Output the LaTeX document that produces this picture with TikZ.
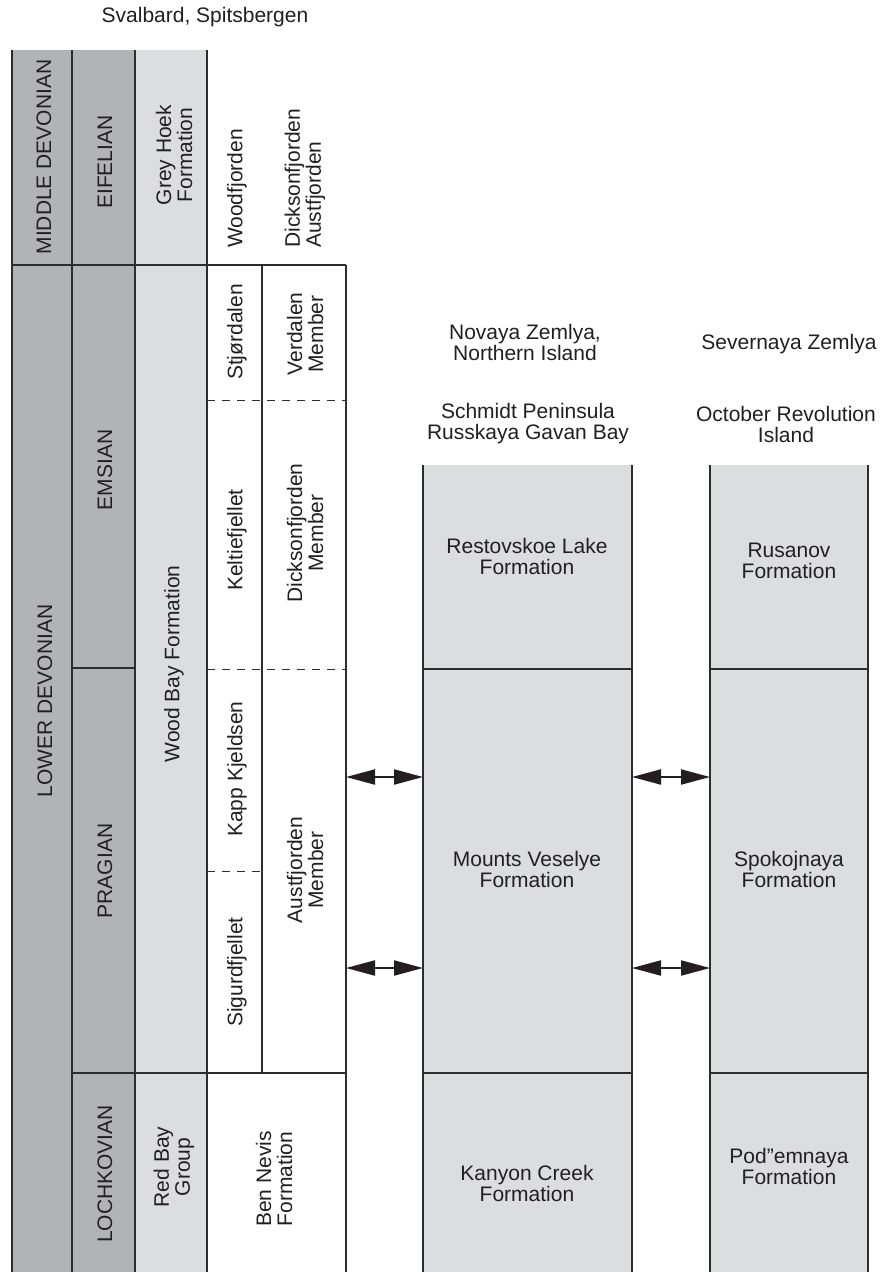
\documentclass[tikz,border=0pt]{standalone}
\usepackage{fontspec}
\setmainfont{Liberation Sans}
\usetikzlibrary{arrows.meta}
\definecolor{stagegrey}{RGB}{178,179,182}
\definecolor{unitgrey}{RGB}{220,221,223}
\definecolor{rulegrey}{RGB}{45,45,45}
\definecolor{inkblack}{RGB}{35,31,32}
\newcommand{\chartfont}{\fontsize{21}{21}\selectfont}
\tikzset{
	every node/.style={font=\chartfont,text=inkblack,align=center},
	rule/.style={draw=rulegrey,line width=1.2pt},
	subrule/.style={draw=rulegrey,line width=1pt,dash pattern=on 8pt off 7pt},
	up/.style={rotate=90},
	link/.style={{Triangle[length=29pt,width=15pt]}-{Triangle[length=29pt,width=15pt]},line width=2pt,draw=inkblack}
}

\begin{document}
\begin{tikzpicture}[x=1pt,y=-1pt]
	\useasboundingbox[fill=white] (0,0) rectangle (880,1272);
	\fill[stagegrey] (12,50) rectangle (135,1280);
	\fill[unitgrey] (135,50) rectangle (207,1280);
	\foreach \l/\r in {423/632,710/868}{
		\fill[unitgrey] (\l,465) rectangle (\r,1280);
		\draw[rule] (\l,465) -- (\l,1280);
		\draw[rule] (\r,465) -- (\r,1280);
		\foreach \y in {669,1073}{
			\draw[rule] (\l,\y) -- (\r,\y);
		}
	}
	\foreach \x in {12,72,135,207}{
		\draw[rule] (\x,50) -- (\x,1280);
	}
	\draw[rule] (12,265) -- (346,265);
	\draw[rule] (346,265) -- (346,1280);
	\draw[rule] (262,265) -- (262,1073);
	\draw[rule] (72,668) -- (135,668);
	\draw[rule] (72,1073) -- (346,1073);
	\foreach \y in {400,669}{
		\draw[subrule] (207,\y) -- (346,\y);
	}
	\draw[subrule] (207,871) -- (262,871);
	\node (svalbard) at (205,17) {Svalbard, Spitsbergen};
	\node (novaya) at (525,342) {Novaya Zemlya,\\Northern Island};
	\node (severnaya) at (789,344) {Severnaya Zemlya};
	\node (schmidt) at (528,424) {Schmidt Peninsula\\Russkaya Gavan Bay};
	\node (october) at (786,424) {October Revolution\\Island};
	\node (restovskoe) at (527,556) {Restovskoe Lake\\Formation};
	\node (veselye) at (527,869) {Mounts Veselye\\Formation};
	\node (kanyon) at (527,1183) {Kanyon Creek\\Formation};
	\node (rusanov) at (789,561) {Rusanov\\Formation};
	\node (spokojnaya) at (789,869) {Spokojnaya\\Formation};
	\node (podemnaya) at (789,1166) {Pod"emnaya\\Formation};
	\node[up] (middev) at (44,157) {MIDDLE DEVONIAN};
	\node[up] (lowdev) at (45,701) {LOWER DEVONIAN};
	\node[up] (eifelian) at (105,162) {EIFELIAN};
	\node[up] (emsian) at (105,470) {EMSIAN};
	\node[up] (pragian) at (105,871) {PRAGIAN};
	\node[up] (lochkovian) at (105,1174) {LOCHKOVIAN};
	\node[up] (greyhoek) at (174,155) {Grey Hoek\\Formation};
	\node[up] (woodbay) at (174,664) {Wood Bay Formation};
	\node[up] (redbay) at (174,1167) {Red Bay\\Group};
	\node[up,anchor=west,inner sep=0pt] (woodfjorden) at (237,248) {Woodfjorden};
	\node[up,anchor=west,inner sep=0pt,align=left] (dicksaust) at (305,248) {Dicksonfjorden\\Austfjorden};
	\node[up] (stjordalen) at (237,332) {Stjørdalen};
	\node[up] (keltie) at (237,540) {Keltiefjellet};
	\node[up] (kapp) at (237,769) {Kapp Kjeldsen};
	\node[up] (sigurd) at (237,972) {Sigurdfjellet};
	\node[up] (verdalen) at (305,334) {Verdalen\\Member};
	\node[up] (dicksmember) at (305,533) {Dicksonfjorden\\Member};
	\node[up] (austmember) at (305,870) {Austfjorden\\Member};
	\node[up] (bennevis) at (274,1179) {Ben Nevis\\Formation};
	\foreach \y [count=\k] in {777,968}{
		\coordinate (sv\k) at (346,\y);
		\coordinate (nzl\k) at (423,\y);
		\coordinate (nzr\k) at (632,\y);
		\coordinate (sz\k) at (710,\y);
		\draw[link] (sv\k) -- (nzl\k);
		\draw[link] (nzr\k) -- (sz\k);
	}
\end{tikzpicture}
\end{document}
